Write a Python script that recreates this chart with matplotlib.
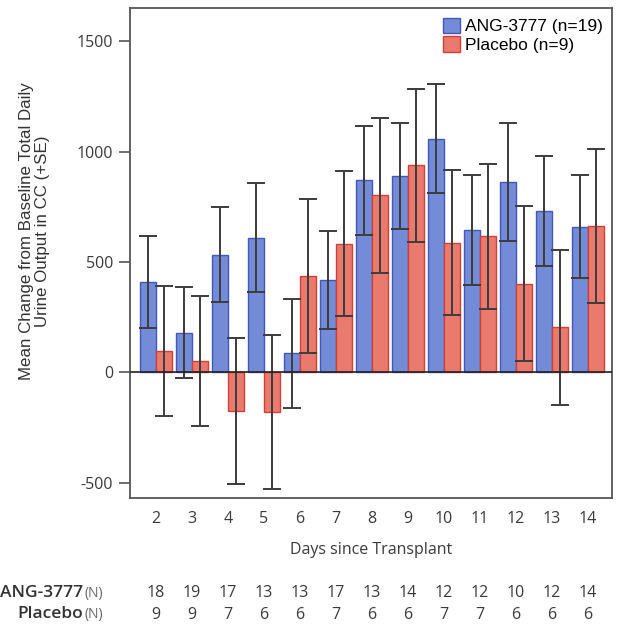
import matplotlib.pyplot as plt
import numpy as np

plt.rcParams['axes.unicode_minus'] = False
plt.rcParams['font.family'] = ['Open Sans', 'DejaVu Sans']

days = [2, 3, 4, 5, 6, 7, 8, 9, 10, 11, 12, 13, 14]
ang_mean = [409, 180, 533, 610, 85, 420, 870, 888, 1059, 644, 863, 731, 659]
ang_se = [207, 208, 216, 248, 247, 222, 246, 240, 246, 250, 266, 248, 233]
pbo_mean = [96, 51, -175, -180, 436, 583, 802, 938, 588, 616, 402, 203, 662]
pbo_se = [293, 293, 330, 350, 351, 330, 352, 348, 330, 330, 350, 350, 350]
ang_n = [18, 19, 17, 13, 13, 17, 13, 14, 12, 12, 10, 12, 14]
pbo_n = [9, 9, 7, 6, 6, 7, 6, 6, 7, 7, 6, 6, 6]

fig = plt.figure(figsize=(6.24, 6.33), dpi=100)
ax = fig.add_axes([0.208, 0.213, 0.773, 0.774])

x = np.array(days, dtype=float)
w = 0.44
err_kw = dict(ecolor='#3c3c3c', elinewidth=1.4, capsize=6.5, capthick=1.4)
ax.bar(x - w / 2, ang_mean, w, yerr=ang_se, color='#748bd8', edgecolor='#4258b8',
       linewidth=1, label='ANG-3777 (n=19)', error_kw=err_kw, zorder=2)
ax.bar(x + w / 2, pbo_mean, w, yerr=pbo_se, color='#ea7a6e', edgecolor='#d04036',
       linewidth=1, label='Placebo (n=9)', error_kw=err_kw, zorder=2)
ax.axhline(0, color='#222222', lw=1.2, zorder=3)

ax.set_xlim(1.27, 14.67)
ax.set_ylim(-571, 1650)
ax.set_yticks([-500, 0, 500, 1000, 1500])
ax.set_xticks(days)
ax.tick_params(axis='x', length=0, pad=9, labelsize=11.5, labelcolor='#3a3a3a')
ax.tick_params(axis='y', length=8, width=1.2, color='#555555', labelsize=11.5,
               labelcolor='#3a3a3a', pad=4)
for s in ax.spines.values():
    s.set_color('#555555')
    s.set_linewidth(1.3)

ax.set_xlabel('Days since Transplant', fontsize=11.5, color='#3a3a3a', labelpad=11)
ax.set_ylabel('Mean Change from Baseline Total Daily\nUrine Output in CC (+SE)',
              fontsize=12.2, family='Liberation Sans', color='#333333',
              linespacing=1.05)
ax.yaxis.set_label_coords(-0.166, 0.545)

leg = ax.legend(loc='upper right', frameon=False,
                prop={'family': 'Liberation Sans', 'size': 12.5},
                handlelength=1.0, handleheight=1.0, handletextpad=0.25,
                labelspacing=0.1, borderaxespad=0.15)

# N table under the chart
tr = ax.get_xaxis_transform()
for d, a, p in zip(days, ang_n, pbo_n):
    ax.text(d, -0.194, str(a), transform=tr, ha='center', va='center',
            fontsize=11.5, color='#3a3a3a')
    ax.text(d, -0.238, str(p), transform=tr, ha='center', va='center',
            fontsize=11.5, color='#3a3a3a')
fig.text(0.133, 0.063, 'ANG-3777', ha='right', va='center', fontsize=12.5,
         color='#333333', weight='semibold')
fig.text(0.135, 0.063, '(N)', ha='left', va='center', fontsize=10, color='#666666')
fig.text(0.133, 0.030, 'Placebo', ha='right', va='center', fontsize=12.5,
         color='#333333', weight='semibold')
fig.text(0.135, 0.030, '(N)', ha='left', va='center', fontsize=10, color='#666666')

fig.savefig('out.png', dpi=100)
